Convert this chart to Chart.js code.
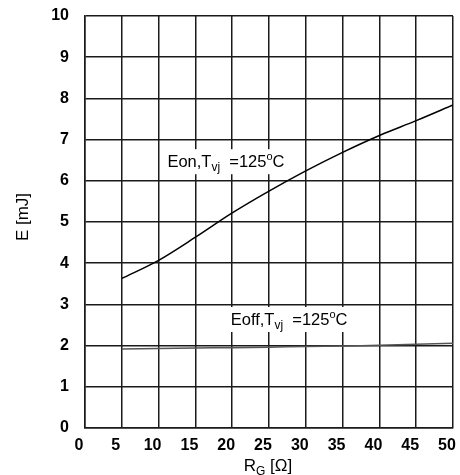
<!DOCTYPE html>
<html>
<head>
<meta charset="utf-8">
<script src="https://cdn.jsdelivr.net/npm/chart.js@4/dist/chart.umd.min.js"></script>
<style>
  html, body { margin: 0; padding: 0; background: #fff; }
  #wrap { width: 460px; height: 475px; }
</style>
</head>
<body>
<div id="wrap"><canvas id="chart"></canvas></div>
<script>
// gate resistance R_G [Ohm]
const rg = [5, 10, 15, 20, 25, 30, 35, 40, 45, 50];
// switching energies [mJ] at Tvj = 125 C
const eon = [3.63, 4.07, 4.63, 5.22, 5.75, 6.24, 6.69, 7.1, 7.46, 7.84];
const eoff = [1.92, 1.93, 1.94, 1.95, 1.96, 1.98, 1.99, 2.01, 2.03, 2.06];

const xTicks = [0, 5, 10, 15, 20, 25, 30, 35, 40, 45, 50];
const yTicks = [0, 1, 2, 3, 4, 5, 6, 7, 8, 9, 10];

const FONT = '"Liberation Sans", Arial, sans-serif';

// draws "Exx,T_vj =125°C" with the sub/superscripts on a white patch
function drawLabel(ctx, x, y, head) {
    const parts = [
        { t: head + ',T', size: 16.5, dy: 0 },
        { t: 'vj', size: 12, dy: 4 },
        { t: '  =125', size: 16.5, dy: 0 },
        { t: 'o', size: 11, dy: -7 },
        { t: 'C', size: 16.5, dy: 0 }
    ];
    let w = 0;
    parts.forEach(p => {
        ctx.font = p.size + 'px ' + FONT;
        w += ctx.measureText(p.t).width;
    });
    ctx.fillStyle = '#fff';
    ctx.fillRect(x - 4, y - 18, w + 8, 25);
    ctx.fillStyle = '#000';
    let cx = x;
    parts.forEach(p => {
        ctx.font = p.size + 'px ' + FONT;
        ctx.fillText(p.t, cx, y + p.dy);
        cx += ctx.measureText(p.t).width;
    });
}

const labelsPlugin = {
    id: 'labels',
    afterDraw(chart) {
        const ctx = chart.ctx;
        const xs = chart.scales.x, ys = chart.scales.y;
        ctx.save();
        ctx.textBaseline = 'alphabetic';
        ctx.textAlign = 'left';
        drawLabel(ctx, xs.getPixelForValue(11.2), ys.getPixelForValue(6.33), 'Eon');
        drawLabel(ctx, xs.getPixelForValue(19.8), ys.getPixelForValue(2.5), 'Eoff');

        // x axis title R_G [Ω]
        ctx.fillStyle = '#000';
        const a = 'R', b = 'G', c = ' [\u03A9]';
        ctx.font = '17px ' + FONT;
        const wa = ctx.measureText(a).width, wc = ctx.measureText(c).width;
        ctx.font = '12px ' + FONT;
        const wb = ctx.measureText(b).width;
        let x0 = 268 - (wa + wb + wc) / 2;
        const yb = 471;
        ctx.font = '17px ' + FONT;
        ctx.fillText(a, x0, yb);
        ctx.font = '12px ' + FONT;
        ctx.fillText(b, x0 + wa, yb + 4);
        ctx.font = '17px ' + FONT;
        ctx.fillText(c, x0 + wa + wb, yb);

        // y axis title
        ctx.translate(23, 217);
        ctx.rotate(-Math.PI / 2);
        ctx.textAlign = 'center';
        ctx.textBaseline = 'middle';
        ctx.font = '17px ' + FONT;
        ctx.fillText('E [mJ]', 0, 0);
        ctx.restore();
    }
};

new Chart(document.getElementById('chart'), {
    type: 'line',
    data: {
        labels: rg,
        datasets: [
            { label: 'Eon', data: rg.map((x, i) => ({ x, y: eon[i] })), borderColor: '#000', borderWidth: 1.5, pointRadius: 0, tension: 0.4, cubicInterpolationMode: 'monotone' },
            { label: 'Eoff', data: rg.map((x, i) => ({ x, y: eoff[i] })), borderColor: '#555', borderWidth: 1.5, pointRadius: 0, tension: 0.4 }
        ]
    },
    options: {
        responsive: true,
        maintainAspectRatio: false,
        animation: false,
        layout: { padding: { top: 16, right: 7, left: 0, bottom: 0 } },
        plugins: { legend: { display: false }, tooltip: { enabled: false } },
        scales: {
            x: {
                type: 'linear',
                min: 0, max: 50,
                afterBuildTicks: s => { s.ticks = xTicks.map(v => ({ value: v })); },
                afterFit: s => { s.height = 47; s.paddingLeft = 0; s.paddingRight = 0; },
                grid: { color: '#1a1a1a', lineWidth: 1.5, drawTicks: false },
                border: { color: '#1a1a1a', width: 1.5 },
                ticks: { color: '#000', padding: 8, labelOffset: -6, maxRotation: 0, autoSkip: false, font: { family: FONT, size: 16, weight: 'bold' } }
            },
            y: {
                min: 0, max: 10,
                afterBuildTicks: s => { s.ticks = yTicks.map(v => ({ value: v })); },
                afterFit: s => { s.width = 85; s.paddingTop = 0; s.paddingBottom = 0; },
                grid: { color: '#1a1a1a', lineWidth: 1.5, drawTicks: false },
                border: { color: '#1a1a1a', width: 1.5 },
                ticks: { color: '#000', padding: 16, font: { family: FONT, size: 16, weight: 'bold' } }
            }
        }
    },
    plugins: [labelsPlugin]
});
</script>
</body>
</html>
